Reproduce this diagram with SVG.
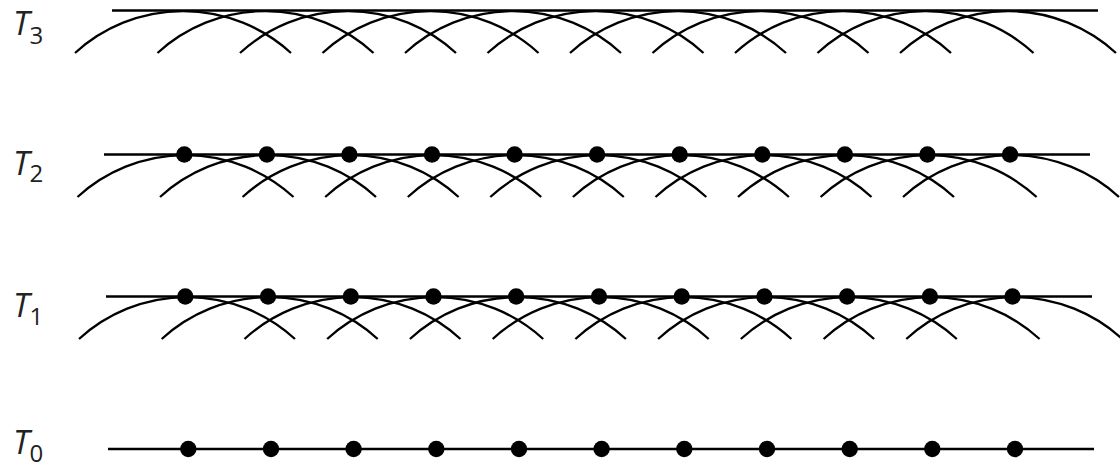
<svg xmlns="http://www.w3.org/2000/svg" width="1120" height="468" viewBox="0 0 1120 468">
<style>
.ln{stroke:#000;stroke-width:2.3;fill:none}
.arc{stroke:#000;stroke-width:2.3;fill:none}
.dot{fill:#000}
.lbl{font-family:"Open Sans","Liberation Sans",sans-serif;fill:#222}
.T{font-style:italic;font-size:33px}
.s{font-size:24px}
</style>
<defs>
<path id="arc" class="arc" d="M -108 42.5 A 160 160 0 0 1 108 42.5"/>
<circle id="dt" class="dot" r="8.2"/>
</defs>
<rect width="1120" height="468" fill="#fff"/>
<g id="labels" class="lbl">
<text x="13" y="34.5"><tspan class="T">T</tspan><tspan class="s" dx="0" dy="9">3</tspan></text>
<text x="13" y="174.5"><tspan class="T">T</tspan><tspan class="s" dx="0" dy="7">2</tspan></text>
<text x="13" y="316.5"><tspan class="T">T</tspan><tspan class="s" dx="0" dy="8">1</tspan></text>
<text x="13" y="454"><tspan class="T">T</tspan><tspan class="s" dx="0" dy="7.5">0</tspan></text>
</g>
<g id="connectors">
<g id="T3-conn">
<line class="ln" x1="112" y1="10.5" x2="1098" y2="10.5"/>
<use href="#arc" x="183" y="10.5"/><use href="#arc" x="265.5" y="10.5"/><use href="#arc" x="348" y="10.5"/><use href="#arc" x="430.5" y="10.5"/><use href="#arc" x="513" y="10.5"/><use href="#arc" x="595.5" y="10.5"/><use href="#arc" x="678" y="10.5"/><use href="#arc" x="760.5" y="10.5"/><use href="#arc" x="843" y="10.5"/><use href="#arc" x="925.5" y="10.5"/><use href="#arc" x="1008" y="10.5"/>
</g>
<g id="T2-conn">
<line class="ln" x1="104" y1="154.5" x2="1090" y2="154.5"/>
<use href="#arc" x="185.5" y="154.5"/><use href="#arc" x="268" y="154.5"/><use href="#arc" x="350.6" y="154.5"/><use href="#arc" x="433.2" y="154.5"/><use href="#arc" x="515.8" y="154.5"/><use href="#arc" x="598.3" y="154.5"/><use href="#arc" x="680.9" y="154.5"/><use href="#arc" x="763.5" y="154.5"/><use href="#arc" x="846" y="154.5"/><use href="#arc" x="928.6" y="154.5"/><use href="#arc" x="1011" y="154.5"/>
</g>
<g id="T1-conn">
<line class="ln" x1="106" y1="296.5" x2="1092" y2="296.5"/>
<use href="#arc" x="187" y="296.5"/><use href="#arc" x="269.7" y="296.5"/><use href="#arc" x="352.5" y="296.5"/><use href="#arc" x="435.2" y="296.5"/><use href="#arc" x="517.9" y="296.5"/><use href="#arc" x="600.7" y="296.5"/><use href="#arc" x="683.4" y="296.5"/><use href="#arc" x="766.1" y="296.5"/><use href="#arc" x="848.8" y="296.5"/><use href="#arc" x="931.6" y="296.5"/><use href="#arc" x="1014.3" y="296.5"/>
</g>
<g id="T0-conn">
<line class="ln" x1="108" y1="449" x2="1094" y2="449"/>
</g>
</g>
<g id="T2-nodes">
<use href="#dt" x="184.3" y="154.5"/><use href="#dt" x="266.9" y="154.5"/><use href="#dt" x="349.4" y="154.5"/><use href="#dt" x="432" y="154.5"/><use href="#dt" x="514.6" y="154.5"/><use href="#dt" x="597.1" y="154.5"/><use href="#dt" x="679.7" y="154.5"/><use href="#dt" x="762.3" y="154.5"/><use href="#dt" x="844.9" y="154.5"/><use href="#dt" x="927.4" y="154.5"/><use href="#dt" x="1010" y="154.5"/>
</g>
<g id="T1-nodes">
<use href="#dt" x="185.3" y="296.5"/><use href="#dt" x="268" y="296.5"/><use href="#dt" x="350.8" y="296.5"/><use href="#dt" x="433.5" y="296.5"/><use href="#dt" x="516.2" y="296.5"/><use href="#dt" x="599" y="296.5"/><use href="#dt" x="681.7" y="296.5"/><use href="#dt" x="764.4" y="296.5"/><use href="#dt" x="847.1" y="296.5"/><use href="#dt" x="929.9" y="296.5"/><use href="#dt" x="1012.5" y="296.5"/>
</g>
<g id="T0-nodes">
<use href="#dt" x="188.3" y="449"/><use href="#dt" x="271" y="449"/><use href="#dt" x="353.6" y="449"/><use href="#dt" x="436.3" y="449"/><use href="#dt" x="519" y="449"/><use href="#dt" x="601.6" y="449"/><use href="#dt" x="684.3" y="449"/><use href="#dt" x="767" y="449"/><use href="#dt" x="849.7" y="449"/><use href="#dt" x="932.3" y="449"/><use href="#dt" x="1015" y="449"/>
</g>
</svg>
